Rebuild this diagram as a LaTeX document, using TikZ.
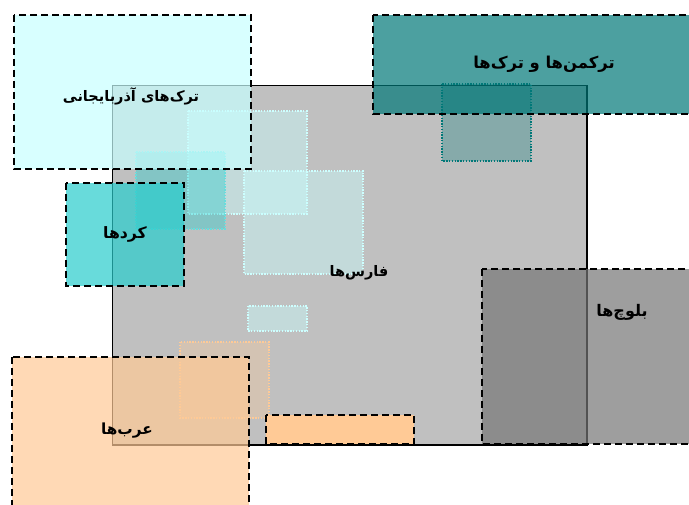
\documentclass[tikz,border=0pt]{standalone}
\usepackage{fontspec}
\newfontfamily\arabicfont[Script=Arabic]{DejaVu Sans}
\TeXXeTstate=1
\definecolor{azc}{RGB}{200,255,255}
\definecolor{tkc}{RGB}{0,120,120}
\definecolor{kuc}{RGB}{40,205,205}
\definecolor{arc}{RGB}{255,202,150}
\definecolor{buc}{RGB}{118,118,118}
\definecolor{mainc}{RGB}{192,192,192}
\tikzset{
  region/.style={draw=black,line width=1.5pt,dash pattern=on 7pt off 4pt,fill opacity=0.7},
  patch/.style={line width=1.3pt,dash pattern=on 1.4pt off 1.4pt,fill opacity=0.42},
  lab/.style={font=\arabicfont\bfseries\fontsize{#1}{#1}\selectfont,text=black,inner sep=0pt}
}
\begin{document}
\begin{tikzpicture}[x=1pt,y=-1pt]
\useasboundingbox (0,0) rectangle (689,505);
\clip (0,0) rectangle (689,505);
\fill[white] (0,0) rectangle (689,505);
\draw[fill=mainc,draw=black,line width=1.9pt] (112.5,85.5) rectangle (587,445);
% dotted patches
\draw[patch,draw=azc!90!white,fill=azc] (188,111) rectangle (307,214);
\draw[patch,draw=azc!90!white,fill=azc] (244,171) rectangle (363,274);
\draw[patch,draw=azc!90!white,fill=azc] (248,306) rectangle (307,331);
\draw[patch,draw=kuc!70!white,fill=kuc,fill opacity=0.4] (136,152) rectangle (225,229);
\draw[patch,draw=tkc,fill=tkc,fill opacity=0.3] (442,84) rectangle (531,161);
\draw[patch,draw=arc,fill=arc,fill opacity=0.3] (180,342) rectangle (269,418);
% dashed regions
\draw[region,fill=azc] (14,15) rectangle (251,169);
\draw[region,fill=tkc] (373,15) rectangle (700,114);
\draw[region,fill=kuc] (66,183) rectangle (184,286);
\draw[region,fill=arc] (12,357) rectangle (249,520);
\draw[region,fill=buc] (482,269) rectangle (700,444);
\draw[region,fill=arc,fill opacity=1] (266,415) rectangle (414,444);
% labels
\node[lab=14.5] (az) at (131,96) {\beginR ترک^^^^200cهای آذربایجانی\endR};
\node[lab=16.4] (tk) at (544,64) {\beginR ترکمن^^^^200cها و ترک^^^^200cها\endR};
\node[lab=15.7] (ku) at (125,234) {\beginR کردها\endR};
\node[lab=14.5] (fa) at (359,273) {\beginR فارس^^^^200cها\endR};
\node[lab=16] (ba) at (622,312) {\beginR بلوچ^^^^200cها\endR};
\node[lab=15.3] (ar) at (127,431) {\beginR عرب^^^^200cها\endR};
\end{tikzpicture}
\end{document}
